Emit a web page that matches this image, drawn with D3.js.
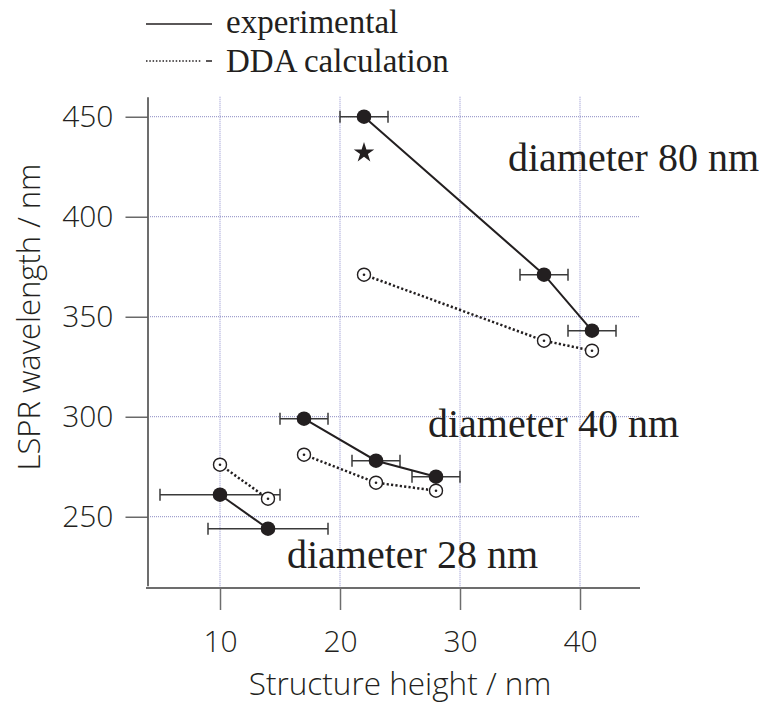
<!DOCTYPE html>
<html>
<head>
<meta charset="utf-8">
<script src="https://cdn.jsdelivr.net/npm/d3@7"></script>
<style>
  body { margin: 0; background: #fff; }
  svg { display: block; }
  .tick text { font-family: "Open Sans", "Noto Sans", sans-serif; font-weight: 300; font-size: 30px; fill: #231f20; }
</style>
</head>
<body>
<div id="chart"></div>
<script>
// structure heights (nm) and LSPR wavelengths (nm) for each diameter
const height80 = [22, 37, 41];
const exp80 = [450, 371, 343];
const dda80 = [371, 338, 333];
const err80 = [2, 2, 2];

const height40 = [17, 23, 28];
const exp40 = [299, 278, 270];
const dda40 = [281, 267, 263];
const err40 = [2, 2, 2];

const height28 = [10, 14];
const exp28 = [261, 244];
const dda28 = [276, 259];
const err28 = [5, 5];

const starPoint = [22, 432];

const xTicks = [10, 20, 30, 40];
const yTicks = [250, 300, 350, 400, 450];

const groups = [
  {h: height80, exp: exp80, dda: dda80, err: err80, label: "diameter 80 nm"},
  {h: height40, exp: exp40, dda: dda40, err: err40, label: "diameter 40 nm"},
  {h: height28, exp: exp28, dda: dda28, err: err28, label: "diameter 28 nm"}
];
const labelPos = [[508, 171], [428, 437], [287, 568]];

const ink = "#231f20";
const width = 766, height = 704;

const svg = d3.select("#chart").append("svg")
    .attr("width", width)
    .attr("height", height);

const x = d3.scaleLinear().domain([3.9, 45]).range([146.8, 640]);
const y = d3.scaleLinear().domain([215.5, 460]).range([585.7, 96.7]);

// grid
svg.append("g").selectAll("line").data(xTicks).join("line")
    .attr("x1", d => x(d)).attr("x2", d => x(d))
    .attr("y1", y(460)).attr("y2", 587)
    .attr("stroke", "#c8c8e6").attr("stroke-width", 2)
    .attr("stroke-dasharray", "1,1");
svg.append("g").selectAll("line").data(yTicks).join("line")
    .attr("x1", 148).attr("x2", 640)
    .attr("y1", d => y(d)).attr("y2", d => y(d))
    .attr("stroke", "#8a8ac2").attr("stroke-width", 1)
    .attr("stroke-dasharray", "1,1");

// axes
const xAxis = svg.append("g")
    .attr("transform", "translate(0,588)")
    .call(d3.axisBottom(x).tickValues(xTicks).tickSize(22).tickSizeOuter(0).tickPadding(21));
const yAxis = svg.append("g")
    .attr("transform", "translate(147.5,0)")
    .call(d3.axisLeft(y).tickValues(yTicks).tickSize(22).tickSizeOuter(0).tickPadding(12));
[xAxis, yAxis].forEach(a => {
  a.select(".domain").attr("stroke", "#6d6d6d").attr("stroke-width", 2);
  a.selectAll(".tick line").attr("stroke", "#6d6d6d").attr("stroke-width", 1.5);
});
yAxis.selectAll(".tick line").attr("stroke", "#444").attr("stroke-width", 1.2);
xAxis.select(".domain").attr("d", "M146,0H640");

svg.append("text")
    .attr("x", 400).attr("y", 695)
    .attr("text-anchor", "middle")
    .attr("font-family", "'Open Sans', 'Noto Sans', sans-serif")
    .attr("font-weight", 300)
    .attr("font-size", 31.5).attr("fill", ink)
    .text("Structure height / nm");
svg.append("text")
    .attr("transform", "translate(40,317) rotate(-90)")
    .attr("text-anchor", "middle")
    .attr("font-family", "'Open Sans', 'Noto Sans', sans-serif")
    .attr("font-weight", 300)
    .attr("font-size", 31).attr("fill", ink)
    .text("LSPR wavelength / nm");

const line = d3.line().x(d => x(d[0])).y(d => y(d[1]));

groups.forEach((g, gi) => {
  const expPts = g.h.map((h, i) => [h, g.exp[i], g.err[i]]);
  const ddaPts = g.h.map((h, i) => [h, g.dda[i]]);
  const layer = svg.append("g");

  // error bars
  const eb = layer.append("g").attr("stroke", "#3a3a3a").attr("stroke-width", 1.5);
  expPts.forEach(p => {
    eb.append("line").attr("x1", x(p[0] - p[2])).attr("x2", x(p[0] + p[2]))
      .attr("y1", y(p[1])).attr("y2", y(p[1]));
    [p[0] - p[2], p[0] + p[2]].forEach(v => {
      eb.append("line").attr("x1", x(v)).attr("x2", x(v))
        .attr("y1", y(p[1]) - 6).attr("y2", y(p[1]) + 6);
    });
  });

  layer.append("path").datum(ddaPts)
      .attr("d", line).attr("fill", "none")
      .attr("stroke", ink).attr("stroke-width", 2.5)
      .attr("stroke-dasharray", "2.2,2.2");
  layer.append("path").datum(expPts)
      .attr("d", line).attr("fill", "none")
      .attr("stroke", ink).attr("stroke-width", 2);

  layer.selectAll("circle.dda").data(ddaPts).join("circle")
      .attr("class", "dda")
      .attr("cx", d => x(d[0])).attr("cy", d => y(d[1])).attr("r", 6.5)
      .attr("fill", "#fff").attr("stroke", ink).attr("stroke-width", 1.4);
  layer.selectAll("circle.ddac").data(ddaPts).join("circle")
      .attr("class", "ddac")
      .attr("cx", d => x(d[0])).attr("cy", d => y(d[1])).attr("r", 1.3)
      .attr("fill", ink);
  layer.selectAll("circle.exp").data(expPts).join("circle")
      .attr("class", "exp")
      .attr("cx", d => x(d[0])).attr("cy", d => y(d[1])).attr("r", 7.3)
      .attr("fill", ink);

  svg.append("text")
      .attr("x", labelPos[gi][0]).attr("y", labelPos[gi][1])
      .attr("font-family", "'Liberation Serif', 'Times New Roman', serif")
      .attr("font-size", 40).attr("fill", ink)
      .text(g.label);
});

// star marker
svg.append("path")
    .attr("transform", `translate(${x(starPoint[0])},${y(starPoint[1])})`)
    .attr("d", d3.symbol().type(d3.symbolStar).size(130)())
    .attr("fill", ink);

// legend
const legend = svg.append("g");
legend.append("line").attr("x1", 146).attr("x2", 212).attr("y1", 24).attr("y2", 24)
    .attr("stroke", ink).attr("stroke-width", 1.3);
legend.append("line").attr("x1", 146).attr("x2", 202).attr("y1", 61).attr("y2", 61)
    .attr("stroke", ink).attr("stroke-width", 1.5).attr("stroke-dasharray", "1.5,1.8");
legend.append("line").attr("x1", 206).attr("x2", 212).attr("y1", 61).attr("y2", 61)
    .attr("stroke", ink).attr("stroke-width", 1.5);
legend.append("text").attr("x", 226).attr("y", 33)
    .attr("font-family", "'Liberation Serif', 'Times New Roman', serif")
    .attr("font-size", 33).attr("fill", ink).text("experimental");
legend.append("text").attr("x", 226).attr("y", 72)
    .attr("font-family", "'Liberation Serif', 'Times New Roman', serif")
    .attr("font-size", 33).attr("fill", ink).text("DDA calculation");
</script>
</body>
</html>
